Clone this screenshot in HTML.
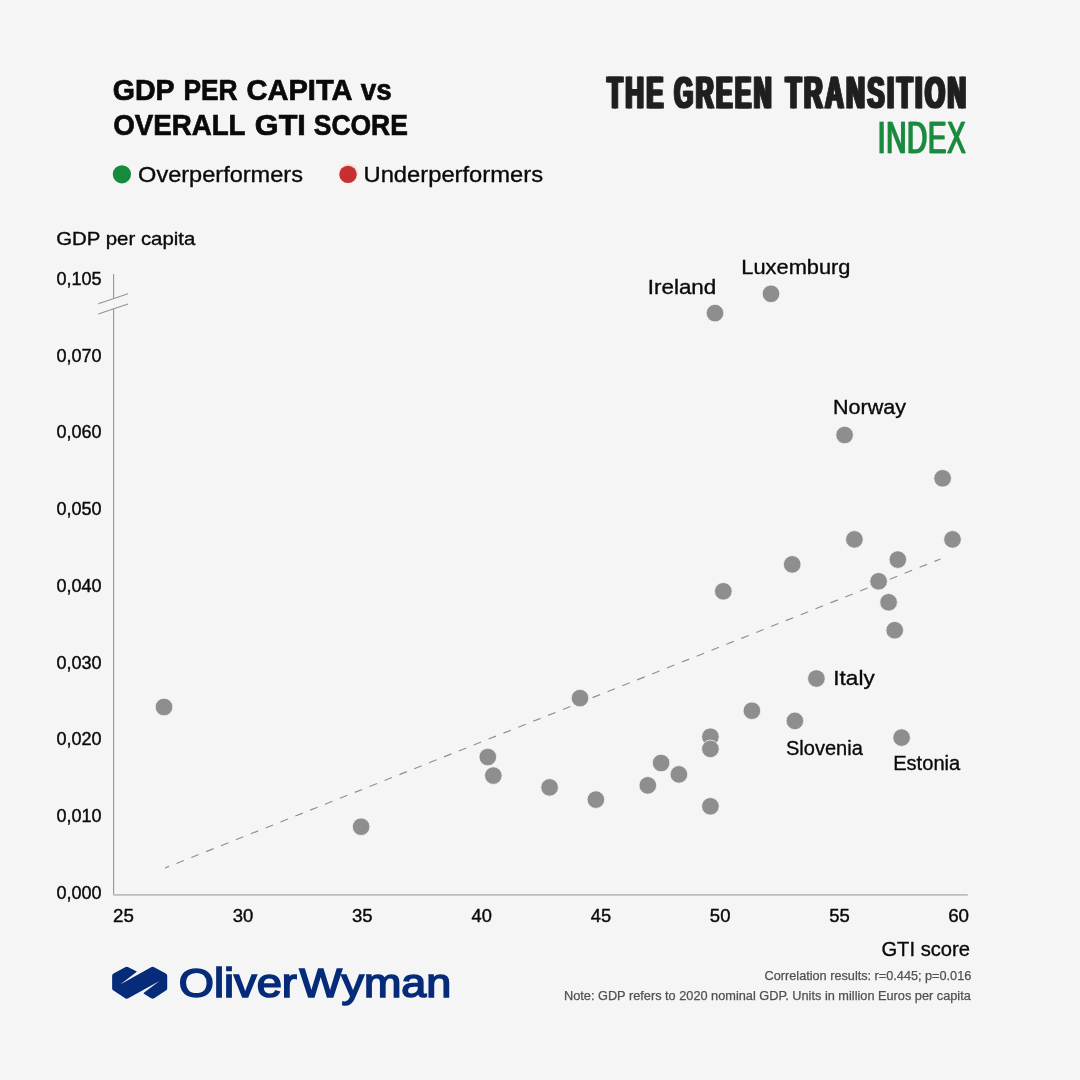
<!DOCTYPE html>
<html><head><meta charset="utf-8"><title>GDP per capita vs overall GTI score</title>
<style>
html,body{margin:0;padding:0;background:#f5f5f5;}
body{width:1080px;height:1080px;overflow:hidden;}
svg{display:block;font-family:"Liberation Sans",sans-serif;will-change:transform;}
</style></head><body>
<svg width="1080" height="1080" viewBox="0 0 1080 1080">
<rect width="1080" height="1080" fill="#f5f5f5"/>

<!-- titles -->
<text x="112.83" y="100.35" font-size="30" font-weight="700" fill="#0a0a0a" stroke="#0a0a0a" stroke-width="0.7" stroke-linejoin="miter" textLength="61.83" lengthAdjust="spacingAndGlyphs">GDP</text>
<text x="183.46" y="100.35" font-size="30" font-weight="700" fill="#0a0a0a" stroke="#0a0a0a" stroke-width="0.7" stroke-linejoin="miter" textLength="54.15" lengthAdjust="spacingAndGlyphs">PER</text>
<text x="246.44" y="100.35" font-size="30" font-weight="700" fill="#0a0a0a" stroke="#0a0a0a" stroke-width="0.7" stroke-linejoin="miter" textLength="106.06" lengthAdjust="spacingAndGlyphs">CAPITA</text>
<text x="360.75" y="100.35" font-size="30" font-weight="700" fill="#0a0a0a" stroke="#0a0a0a" stroke-width="0.7" stroke-linejoin="miter" textLength="31.01" lengthAdjust="spacingAndGlyphs">vs</text>
<text x="113.14" y="135.35" font-size="30" font-weight="700" fill="#0a0a0a" stroke="#0a0a0a" stroke-width="0.7" stroke-linejoin="miter" textLength="132.36" lengthAdjust="spacingAndGlyphs">OVERALL</text>
<text x="254.81" y="135.35" font-size="30" font-weight="700" fill="#0a0a0a" stroke="#0a0a0a" stroke-width="0.7" stroke-linejoin="miter" textLength="51.07" lengthAdjust="spacingAndGlyphs">GTI</text>
<text x="313.79" y="135.35" font-size="30" font-weight="700" fill="#0a0a0a" stroke="#0a0a0a" stroke-width="0.7" stroke-linejoin="miter" textLength="94.07" lengthAdjust="spacingAndGlyphs">SCORE</text>
<text x="605.97" y="107.7" font-size="44.2" font-weight="700" fill="#1f1f1f" stroke="#1f1f1f" stroke-width="1.2" stroke-linejoin="miter" letter-spacing="4.5" textLength="58.86" lengthAdjust="spacingAndGlyphs">THE</text><text x="608.37" y="107.7" font-size="44.2" font-weight="700" fill="#1f1f1f" stroke="#1f1f1f" stroke-width="1.2" stroke-linejoin="miter" letter-spacing="4.5" textLength="58.86" lengthAdjust="spacingAndGlyphs">THE</text>
<text x="672.91" y="107.7" font-size="44.2" font-weight="700" fill="#1f1f1f" stroke="#1f1f1f" stroke-width="1.2" stroke-linejoin="miter" letter-spacing="4.5" textLength="99.95" lengthAdjust="spacingAndGlyphs">GREEN</text><text x="675.31" y="107.7" font-size="44.2" font-weight="700" fill="#1f1f1f" stroke="#1f1f1f" stroke-width="1.2" stroke-linejoin="miter" letter-spacing="4.5" textLength="99.95" lengthAdjust="spacingAndGlyphs">GREEN</text>
<text x="784.46" y="107.7" font-size="44.2" font-weight="700" fill="#1f1f1f" stroke="#1f1f1f" stroke-width="1.2" stroke-linejoin="miter" letter-spacing="4.5" textLength="183.01" lengthAdjust="spacingAndGlyphs">TRANSITION</text><text x="786.86" y="107.7" font-size="44.2" font-weight="700" fill="#1f1f1f" stroke="#1f1f1f" stroke-width="1.2" stroke-linejoin="miter" letter-spacing="4.5" textLength="183.01" lengthAdjust="spacingAndGlyphs">TRANSITION</text>
<text x="877.1" y="153.35" font-size="44.8" fill="#1a8a3f" stroke="#1a8a3f" stroke-width="0.3" stroke-linejoin="miter" letter-spacing="1.0" textLength="88.61" lengthAdjust="spacingAndGlyphs">INDEX</text><text x="878.5" y="153.35" font-size="44.8" fill="#1a8a3f" stroke="#1a8a3f" stroke-width="0.3" stroke-linejoin="miter" letter-spacing="1.0" textLength="88.61" lengthAdjust="spacingAndGlyphs">INDEX</text>
<!-- legend -->
<circle cx="121.9" cy="174.3" r="9.1" fill="#168a3d"/>
<text x="138.09" y="182.32" font-size="22.9" fill="#0a0a0a" stroke="#0a0a0a" stroke-width="0.35" stroke-linejoin="miter" textLength="164.87" lengthAdjust="spacingAndGlyphs">Overperformers</text>
<circle cx="348.6" cy="173.6" r="9.6" fill="#f3dcdc"/><circle cx="348" cy="174.4" r="8.7" fill="#c73030"/>
<text x="363.48" y="182.32" font-size="22.9" fill="#0a0a0a" stroke="#0a0a0a" stroke-width="0.35" stroke-linejoin="miter" textLength="179.58" lengthAdjust="spacingAndGlyphs">Underperformers</text>
<text x="56.25" y="244.82" font-size="18.5" fill="#0a0a0a" stroke="#0a0a0a" stroke-width="0.35" stroke-linejoin="miter" textLength="139.1" lengthAdjust="spacingAndGlyphs">GDP per capita</text>
<!-- axes -->
<g stroke="#949494" stroke-width="1.1" fill="none">
<line x1="113.6" y1="274.1" x2="113.6" y2="298.6"/><line x1="113.6" y1="308.8" x2="113.6" y2="894"/>
<line x1="98.3" y1="303.7" x2="128" y2="293.7"/><line x1="98.3" y1="313.9" x2="128" y2="303.9"/>
</g>
<line x1="113" y1="894.85" x2="967.8" y2="894.85" stroke="#bdbdbd" stroke-width="1.9"/>
<line x1="165" y1="868" x2="940.5" y2="559" stroke="#8f8f8f" stroke-width="1.15" stroke-dasharray="8 8" stroke-dashoffset="3.7"/>
<text x="56.49" y="285.0" font-size="17.9" fill="#0a0a0a" stroke="#0a0a0a" stroke-width="0.4" stroke-linejoin="miter" textLength="45.13" lengthAdjust="spacingAndGlyphs">0,105</text>
<text x="56.49" y="361.6" font-size="17.9" fill="#0a0a0a" stroke="#0a0a0a" stroke-width="0.4" stroke-linejoin="miter" textLength="45.13" lengthAdjust="spacingAndGlyphs">0,070</text>
<text x="56.49" y="438.2" font-size="17.9" fill="#0a0a0a" stroke="#0a0a0a" stroke-width="0.4" stroke-linejoin="miter" textLength="45.13" lengthAdjust="spacingAndGlyphs">0,060</text>
<text x="56.49" y="514.9" font-size="17.9" fill="#0a0a0a" stroke="#0a0a0a" stroke-width="0.4" stroke-linejoin="miter" textLength="45.13" lengthAdjust="spacingAndGlyphs">0,050</text>
<text x="56.49" y="591.8" font-size="17.9" fill="#0a0a0a" stroke="#0a0a0a" stroke-width="0.4" stroke-linejoin="miter" textLength="45.13" lengthAdjust="spacingAndGlyphs">0,040</text>
<text x="56.49" y="668.6" font-size="17.9" fill="#0a0a0a" stroke="#0a0a0a" stroke-width="0.4" stroke-linejoin="miter" textLength="45.13" lengthAdjust="spacingAndGlyphs">0,030</text>
<text x="56.49" y="745.3" font-size="17.9" fill="#0a0a0a" stroke="#0a0a0a" stroke-width="0.4" stroke-linejoin="miter" textLength="45.13" lengthAdjust="spacingAndGlyphs">0,020</text>
<text x="56.49" y="822.0" font-size="17.9" fill="#0a0a0a" stroke="#0a0a0a" stroke-width="0.4" stroke-linejoin="miter" textLength="45.13" lengthAdjust="spacingAndGlyphs">0,010</text>
<text x="56.49" y="898.6" font-size="17.9" fill="#0a0a0a" stroke="#0a0a0a" stroke-width="0.4" stroke-linejoin="miter" textLength="45.13" lengthAdjust="spacingAndGlyphs">0,000</text>
<text x="113.1" y="922.0" font-size="18.0" fill="#0a0a0a" stroke="#0a0a0a" stroke-width="0.4" stroke-linejoin="miter" textLength="20.84" lengthAdjust="spacingAndGlyphs">25</text>
<text x="232.67" y="922.0" font-size="18.0" fill="#0a0a0a" stroke="#0a0a0a" stroke-width="0.4" stroke-linejoin="miter" textLength="20.55" lengthAdjust="spacingAndGlyphs">30</text>
<text x="351.97" y="922.0" font-size="18.0" fill="#0a0a0a" stroke="#0a0a0a" stroke-width="0.4" stroke-linejoin="miter" textLength="20.55" lengthAdjust="spacingAndGlyphs">35</text>
<text x="471.54" y="922.0" font-size="18.0" fill="#0a0a0a" stroke="#0a0a0a" stroke-width="0.4" stroke-linejoin="miter" textLength="20.28" lengthAdjust="spacingAndGlyphs">40</text>
<text x="590.84" y="922.0" font-size="18.0" fill="#0a0a0a" stroke="#0a0a0a" stroke-width="0.4" stroke-linejoin="miter" textLength="20.28" lengthAdjust="spacingAndGlyphs">45</text>
<text x="709.87" y="922.0" font-size="18.0" fill="#0a0a0a" stroke="#0a0a0a" stroke-width="0.4" stroke-linejoin="miter" textLength="20.55" lengthAdjust="spacingAndGlyphs">50</text>
<text x="829.17" y="922.0" font-size="18.0" fill="#0a0a0a" stroke="#0a0a0a" stroke-width="0.4" stroke-linejoin="miter" textLength="20.55" lengthAdjust="spacingAndGlyphs">55</text>
<text x="948.2" y="922.0" font-size="18.0" fill="#0a0a0a" stroke="#0a0a0a" stroke-width="0.4" stroke-linejoin="miter" textLength="20.84" lengthAdjust="spacingAndGlyphs">60</text>
<!-- points -->
<g fill="#8e8e8e" stroke="#f5f5f5" stroke-width="0.8">
<circle cx="771.0" cy="293.8" r="8.8"/>
<circle cx="715.0" cy="313.1" r="8.8"/>
<circle cx="844.6" cy="435.0" r="8.8"/>
<circle cx="942.6" cy="478.3" r="8.8"/>
<circle cx="854.4" cy="539.4" r="8.8"/>
<circle cx="952.5" cy="539.4" r="8.8"/>
<circle cx="897.8" cy="559.6" r="8.8"/>
<circle cx="792.2" cy="564.4" r="8.8"/>
<circle cx="878.6" cy="581.3" r="8.8"/>
<circle cx="723.3" cy="591.3" r="8.8"/>
<circle cx="888.6" cy="602.3" r="8.8"/>
<circle cx="894.7" cy="630.2" r="8.8"/>
<circle cx="816.4" cy="678.5" r="8.8"/>
<circle cx="751.9" cy="710.7" r="8.8"/>
<circle cx="794.9" cy="720.9" r="8.8"/>
<circle cx="901.6" cy="737.6" r="8.8"/>
<circle cx="710.4" cy="736.7" r="8.8"/>
<circle cx="710.4" cy="748.9" r="8.8"/>
<circle cx="661.1" cy="763.0" r="8.8"/>
<circle cx="678.9" cy="774.4" r="8.8"/>
<circle cx="647.8" cy="785.4" r="8.8"/>
<circle cx="710.4" cy="806.3" r="8.8"/>
<circle cx="595.9" cy="799.6" r="8.8"/>
<circle cx="549.6" cy="787.4" r="8.8"/>
<circle cx="580.0" cy="698.1" r="8.8"/>
<circle cx="487.8" cy="757.0" r="8.8"/>
<circle cx="493.3" cy="775.6" r="8.8"/>
<circle cx="361.1" cy="826.7" r="8.8"/>
<circle cx="164.0" cy="707.0" r="8.8"/>
</g>
<text x="647.77" y="294.02" font-size="20.5" fill="#0a0a0a" stroke="#0a0a0a" stroke-width="0.35" stroke-linejoin="miter" textLength="68.54" lengthAdjust="spacingAndGlyphs">Ireland</text>
<text x="741.36" y="274.22" font-size="20.5" fill="#0a0a0a" stroke="#0a0a0a" stroke-width="0.35" stroke-linejoin="miter" textLength="109.12" lengthAdjust="spacingAndGlyphs">Luxemburg</text>
<text x="833.07" y="414.02" font-size="20.5" fill="#0a0a0a" stroke="#0a0a0a" stroke-width="0.35" stroke-linejoin="miter" textLength="72.98" lengthAdjust="spacingAndGlyphs">Norway</text>
<text x="833.38" y="685.43" font-size="20.5" fill="#0a0a0a" stroke="#0a0a0a" stroke-width="0.35" stroke-linejoin="miter" textLength="41.27" lengthAdjust="spacingAndGlyphs">Italy</text>
<text x="785.95" y="754.73" font-size="20.5" fill="#0a0a0a" stroke="#0a0a0a" stroke-width="0.35" stroke-linejoin="miter" textLength="76.9" lengthAdjust="spacingAndGlyphs">Slovenia</text>
<text x="893.17" y="769.62" font-size="20.5" fill="#0a0a0a" stroke="#0a0a0a" stroke-width="0.35" stroke-linejoin="miter" textLength="67.08" lengthAdjust="spacingAndGlyphs">Estonia</text>
<text x="881.44" y="956.33" font-size="20.5" fill="#0a0a0a" stroke="#0a0a0a" stroke-width="0.35" stroke-linejoin="miter" textLength="88.53" lengthAdjust="spacingAndGlyphs">GTI score</text>
<text x="764.6" y="980.17" font-size="12.7" fill="#515151" stroke="#515151" stroke-width="0.25" stroke-linejoin="miter" textLength="206.7" lengthAdjust="spacingAndGlyphs">Correlation results: r=0.445; p=0.016</text>
<text x="564.0" y="999.77" font-size="12.7" fill="#515151" stroke="#515151" stroke-width="0.25" stroke-linejoin="miter" textLength="406.8" lengthAdjust="spacingAndGlyphs">Note: GDP refers to 2020 nominal GDP. Units in million Euros per capita</text>
<!-- logo -->
<path fill="#062b79" d="M112.13 975.80Q112.13 974.20 113.54 973.45L125.12 967.27Q126.71 966.43 128.32 967.23L136.36 971.25Q137.08 971.61 136.45 972.10L120.23 984.57L151.06 967.30Q152.63 966.43 154.22 967.27L165.80 973.45Q167.22 974.20 167.22 975.80L167.22 988.16Q167.22 989.76 165.87 990.62L154.15 998.18Q152.63 999.15 151.11 998.20L143.92 993.74Q143.24 993.32 143.87 992.84L159.44 981.01L128.29 998.28Q126.71 999.15 125.20 998.18L113.47 990.62Q112.13 989.76 112.13 988.16Z"/>
<text x="178.74" y="997.1" font-size="40" fill="#062b79" stroke="#062b79" stroke-width="1.6" stroke-linejoin="miter" textLength="118.11" lengthAdjust="spacingAndGlyphs">Oliver</text>
<text x="299.41" y="997.1" font-size="40" fill="#062b79" stroke="#062b79" stroke-width="1.6" stroke-linejoin="miter" textLength="151.91" lengthAdjust="spacingAndGlyphs">Wyman</text>
</svg></body></html>
